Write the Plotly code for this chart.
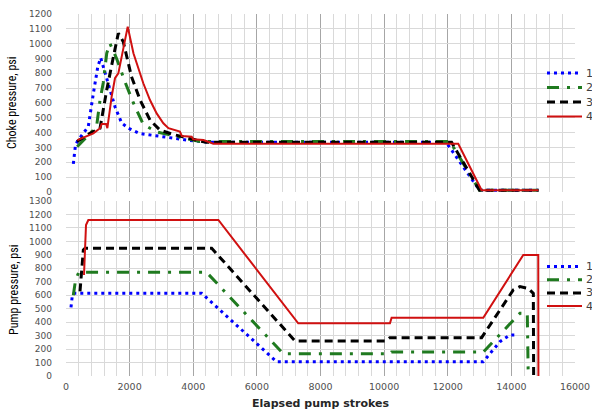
import plotly.graph_objects as go

# ---------------- data ----------------
series_names = ["1", "2", "3", "4"]

# Choke pressure (top panel)
choke_x1 = [230, 300, 400, 700, 860, 1000, 1090, 1230, 1380, 1540, 1750, 1960, 2300, 3000, 3800, 4500, 11950, 13000, 14850]
choke_y1 = [190, 320, 355, 440, 665, 845, 905, 800, 690, 575, 465, 430, 395, 372, 350, 335, 335, 12, 12]

choke_x2 = [350, 650, 960, 1070, 1170, 1280, 1380, 1590, 1850, 2120, 2430, 2850, 3480, 4200, 12070, 13000, 14850]
choke_y2 = [305, 375, 440, 620, 735, 935, 1002, 900, 745, 600, 455, 405, 373, 340, 340, 12, 12]

choke_x3 = [350, 750, 1070, 1280, 1490, 1645, 1800, 2060, 2330, 2640, 2950, 3370, 3800, 4400, 12120, 13000, 14850]
choke_y3 = [340, 395, 430, 688, 912, 1070, 1013, 777, 620, 485, 418, 388, 365, 335, 335, 12, 12]

choke_x4 = [356, 860, 1070, 1120, 1260, 1300, 1435, 1540, 1645, 1800, 1940, 2120, 2430, 2640, 2850, 3060, 3220, 3580, 3640, 3950, 4000, 4320, 4630, 12330, 13065, 14850]
choke_y4 = [350, 395, 430, 458, 458, 430, 643, 767, 800, 957, 1115, 935, 733, 620, 530, 463, 430, 407, 378, 373, 355, 350, 325, 325, 12, 12]

# Pump pressure (bottom panel)
pump_x1 = [157, 200, 250, 4265, 6620, 13117, 13640, 13955, 14217]
pump_y1 = [510, 600, 614, 614, 106, 106, 255, 305, 305]

pump_x2 = [230, 300, 400, 4420, 6830, 10180, 10230, 13117, 14270, 14500, 14530]
pump_y2 = [600, 713, 770, 770, 165, 165, 178, 178, 466, 466, 0]

pump_x3 = [440, 545, 600, 4580, 7200, 10030, 10180, 13065, 14060, 14270, 14530, 14690, 14700]
pump_y3 = [628, 936, 949, 949, 260, 260, 285, 285, 639, 664, 651, 614, 0]

pump_x4 = [566, 629, 702, 4790, 7300, 10183, 10235, 13117, 14374, 14845, 14850]
pump_y4 = [750, 1122, 1159, 1159, 391, 391, 433, 433, 899, 899, 0]

x_title = "Elapsed pump strokes"
top_title = "Choke pressure, psi"
bottom_title = "Pump pressure, psi"

# ---------------- styles ----------------
styles = [
    dict(color="#0000FF", width=3, dash="3px,4px"),
    dict(color="#1F7A1F", width=3, dash="12px,8px,3px,8px"),
    dict(color="#000000", width=3, dash="8px,5px"),
    dict(color="#D01010", width=2, dash="solid"),
]

W, H = 592, 411
x0p, x1p = 66, 575
top_t, top_b = 14, 192
bot_t, bot_b = 201, 376

def px(v):
    return v / W

def py(v):
    return 1 - v / H

fig = go.Figure()

choke = [(choke_x1, choke_y1), (choke_x2, choke_y2), (choke_x3, choke_y3), (choke_x4, choke_y4)]
pump = [(pump_x1, pump_y1), (pump_x2, pump_y2), (pump_x3, pump_y3), (pump_x4, pump_y4)]

for i, (xs, ys) in enumerate(choke):
    fig.add_trace(go.Scatter(x=xs, y=ys, mode="lines", name=series_names[i],
                             line=styles[i], xaxis="x", yaxis="y", showlegend=False))
for i, (xs, ys) in enumerate(pump):
    fig.add_trace(go.Scatter(x=xs, y=ys, mode="lines", name=series_names[i],
                             line=styles[i], xaxis="x2", yaxis="y2", showlegend=False))

tick_font = dict(family="DejaVu Sans", size=9, color="#505050")
major_grid = "#A6A6A6"
minor_grid = "#D9D9D9"

xcommon = dict(range=[0, 16000], dtick=2000, tick0=0, showgrid=True, gridcolor=major_grid,
               gridwidth=1, zeroline=False, showline=False, tickformat="d", automargin=False,
               minor=dict(dtick=400, tick0=0, showgrid=True, gridcolor=minor_grid, gridwidth=1),
               domain=[px(x0p), px(x1p)], tickfont=dict(tick_font, size=9.5), ticks="")
ycommon = dict(showgrid=True, gridcolor=minor_grid, gridwidth=1, zeroline=False, showline=False,
               dtick=100, tick0=0, tickfont=tick_font, ticks="", ticklabelstandoff=13,
               automargin=False)

fig.update_layout(
    width=W, height=H, autosize=False,
    margin=dict(l=0, r=0, t=0, b=0, pad=0),
    paper_bgcolor="white", plot_bgcolor="white",
    xaxis=dict(xcommon, anchor="y", showticklabels=False),
    yaxis=dict(ycommon, range=[0, 1200], domain=[py(top_b), py(top_t)], anchor="x"),
    xaxis2=dict(xcommon, anchor="y2", showticklabels=True, ticklabelstandoff=3),
    yaxis2=dict(ycommon, range=[0, 1300], domain=[py(bot_b), py(bot_t)], anchor="x2"),
)

title_font = dict(family="Liberation Sans Narrow, Roboto Condensed, Liberation Sans", size=12, color="#000000")
annotations = [
    dict(text=top_title, x=px(12), y=py(103), xref="paper", yref="paper", showarrow=False,
         textangle=-90, font=title_font, xanchor="center", yanchor="middle"),
    dict(text=bottom_title, x=px(14), y=py(290), xref="paper", yref="paper", showarrow=False,
         textangle=-90, font=title_font, xanchor="center", yanchor="middle"),
    dict(text="<b>" + x_title + "</b>", x=px(320), y=py(403), xref="paper", yref="paper",
         showarrow=False, font=dict(family="DejaVu Sans", size=11, color="#262626"),
         xanchor="center", yanchor="middle"),
]

# manual legends (key lines + labels)
shapes = []
leg_top = [73, 87.5, 102, 116.5]
leg_bot = [266.5, 279.7, 292.9, 306]
for rows in (leg_top, leg_bot):
    for i, yy in enumerate(rows):
        shapes.append(dict(type="line", xref="paper", yref="paper",
                           x0=px(547), x1=px(582), y0=py(yy), y1=py(yy),
                           line=styles[i]))
        annotations.append(dict(text=series_names[i], x=px(584), y=py(yy), xref="paper", yref="paper",
                                showarrow=False, xanchor="left", yanchor="middle",
                                font=dict(family="DejaVu Sans", size=11, color="#404040")))

fig.update_layout(annotations=annotations, shapes=shapes)

fig.write_html("out.html", config={"displayModeBar": False})
